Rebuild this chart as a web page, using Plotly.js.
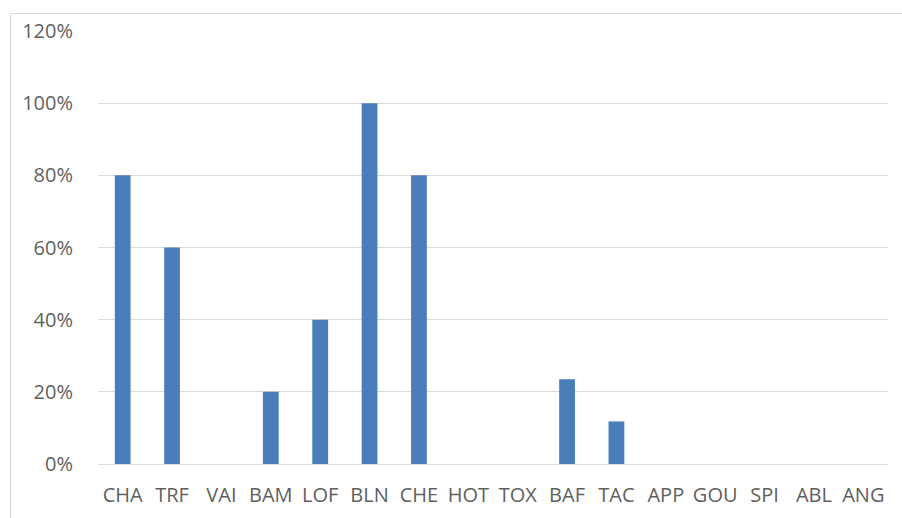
<!DOCTYPE html>
<html><head><meta charset="utf-8">
<script src="https://cdn.plot.ly/plotly-3.0.1.min.js"></script>
<style>
html,body{margin:0;padding:0;background:#fff;overflow:hidden;}
#frame{position:absolute;left:10px;top:13px;width:900px;height:520px;border:1px solid #d9d9d9;box-sizing:border-box;}
#chart{position:absolute;left:0;top:0;width:902px;height:518px;}
</style></head>
<body>
<div id="frame"></div>
<div id="chart"></div>
<script>
const categories = ["CHA","TRF","VAI","BAM","LOF","BLN","CHE","HOT","TOX","BAF","TAC","APP","GOU","SPI","ABL","ANG"];
const values = [0.80,0.60,0,0.20,0.40,1.00,0.80,0,0,0.235,0.118,0,0,0,0,0];
const yTicks = [0,0.2,0.4,0.6,0.8,1.0,1.2];
const yTickLabels = ["0%","20%","40%","60%","80%","100%","120%"];

const trace = {
  type:'bar', x:categories, y:values,
  marker:{color:'#4a7ebb', line:{width:0}},
  hoverinfo:'none'
};
const layout = {
  width:902, height:518,
  margin:{l:98, r:14, t:31, b:54},
  paper_bgcolor:'rgba(0,0,0,0)', plot_bgcolor:'rgba(0,0,0,0)',
  bargap:0.68,
  showlegend:false,
  font:{family:'"Open Sans", "Liberation Sans", sans-serif', size:20, color:'#5f5f5f'},
  xaxis:{
    type:'category', showgrid:false, zeroline:false,
    showline:true, linecolor:'#d9d9d9', linewidth:1,
    ticks:'outside', ticklen:13, tickcolor:'rgba(0,0,0,0)',
    tickfont:{size:20, color:'#5f5f5f'}
  },
  yaxis:{
    range:[0,1.2], tickvals:yTicks, ticktext:yTickLabels,
    showgrid:true, gridcolor:'#d9d9d9', gridwidth:1,
    zeroline:false, showline:false,
    ticks:'outside', ticklen:20, tickcolor:'rgba(0,0,0,0)',
    tickfont:{size:20, color:'#5f5f5f'}
  }
};
Plotly.newPlot('chart',[trace],layout,{displayModeBar:false,staticPlot:true});
</script>
</body></html>
